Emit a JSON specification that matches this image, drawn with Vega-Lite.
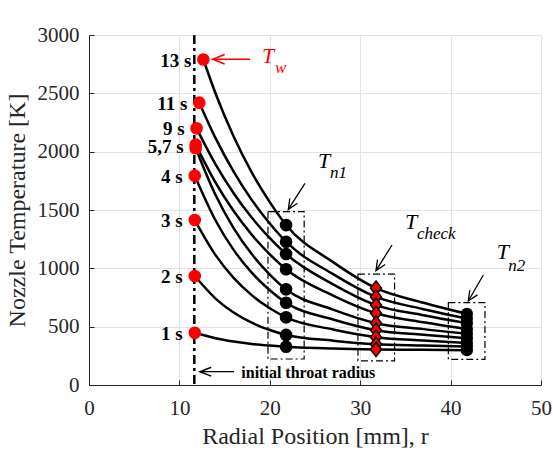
{
  "$schema": "https://vega.github.io/schema/vega-lite/v6.json",
  "width": 452,
  "height": 350,
  "autosize": {"type": "none"},
  "padding": {"left": 89, "top": 35, "right": 12, "bottom": 68},
  "background": "white",
  "config": {"view": {"stroke": null}, "font": "Liberation Serif", "axis": {"labelFont": "Liberation Serif", "titleFont": "Liberation Serif"}},
  "datasets": {
    "curves": [
      {"t": "13 s", "r": 12.65, "T": 2790}, {"t": "13 s", "r": 14, "T": 2499}, {"t": "13 s", "r": 16, "T": 2130}, {"t": "13 s", "r": 18, "T": 1822}, {"t": "13 s", "r": 20, "T": 1567}, {"t": "13 s", "r": 21.8, "T": 1371}, {"t": "13 s", "r": 27, "T": 1053}, {"t": "13 s", "r": 31.75, "T": 830}, {"t": "13 s", "r": 37, "T": 705}, {"t": "13 s", "r": 41.8, "T": 610},
      {"t": "11 s", "r": 12.2, "T": 2420}, {"t": "11 s", "r": 14, "T": 2116}, {"t": "11 s", "r": 16, "T": 1829}, {"t": "11 s", "r": 18, "T": 1587}, {"t": "11 s", "r": 20, "T": 1384}, {"t": "11 s", "r": 21.8, "T": 1228}, {"t": "11 s", "r": 27, "T": 950}, {"t": "11 s", "r": 31.75, "T": 755}, {"t": "11 s", "r": 37, "T": 650}, {"t": "11 s", "r": 41.8, "T": 570},
      {"t": "9 s", "r": 11.9, "T": 2200}, {"t": "9 s", "r": 14, "T": 1891}, {"t": "9 s", "r": 16, "T": 1644}, {"t": "9 s", "r": 18, "T": 1435}, {"t": "9 s", "r": 20, "T": 1258}, {"t": "9 s", "r": 21.8, "T": 1123}, {"t": "9 s", "r": 27, "T": 863}, {"t": "9 s", "r": 31.75, "T": 685}, {"t": "9 s", "r": 37, "T": 598}, {"t": "9 s", "r": 41.8, "T": 530},
      {"t": "7 s", "r": 11.8, "T": 2060}, {"t": "7 s", "r": 14, "T": 1734}, {"t": "7 s", "r": 16, "T": 1491}, {"t": "7 s", "r": 18, "T": 1289}, {"t": "7 s", "r": 20, "T": 1120}, {"t": "7 s", "r": 21.8, "T": 992}, {"t": "7 s", "r": 27, "T": 767}, {"t": "7 s", "r": 31.75, "T": 615}, {"t": "7 s", "r": 37, "T": 538}, {"t": "7 s", "r": 41.8, "T": 480},
      {"t": "5 s", "r": 11.8, "T": 2030}, {"t": "5 s", "r": 14, "T": 1629}, {"t": "5 s", "r": 16, "T": 1345}, {"t": "5 s", "r": 18, "T": 1122}, {"t": "5 s", "r": 20, "T": 947}, {"t": "5 s", "r": 21.8, "T": 820}, {"t": "5 s", "r": 27, "T": 646}, {"t": "5 s", "r": 31.75, "T": 530}, {"t": "5 s", "r": 37, "T": 479}, {"t": "5 s", "r": 41.8, "T": 440},
      {"t": "4 s", "r": 11.7, "T": 1794}, {"t": "4 s", "r": 14, "T": 1410}, {"t": "4 s", "r": 16, "T": 1158}, {"t": "4 s", "r": 18, "T": 963}, {"t": "4 s", "r": 20, "T": 812}, {"t": "4 s", "r": 21.8, "T": 705}, {"t": "4 s", "r": 27, "T": 562}, {"t": "4 s", "r": 31.75, "T": 470}, {"t": "4 s", "r": 37, "T": 430}, {"t": "4 s", "r": 41.8, "T": 400},
      {"t": "3 s", "r": 11.7, "T": 1414}, {"t": "3 s", "r": 14, "T": 1113}, {"t": "3 s", "r": 16, "T": 918}, {"t": "3 s", "r": 18, "T": 770}, {"t": "3 s", "r": 20, "T": 658}, {"t": "3 s", "r": 21.8, "T": 580}, {"t": "3 s", "r": 27, "T": 476}, {"t": "3 s", "r": 31.75, "T": 410}, {"t": "3 s", "r": 37, "T": 381}, {"t": "3 s", "r": 41.8, "T": 360},
      {"t": "2 s", "r": 11.7, "T": 934}, {"t": "2 s", "r": 14, "T": 741}, {"t": "2 s", "r": 16, "T": 621}, {"t": "2 s", "r": 18, "T": 534}, {"t": "2 s", "r": 20, "T": 471}, {"t": "2 s", "r": 21.8, "T": 429}, {"t": "2 s", "r": 27, "T": 380}, {"t": "2 s", "r": 31.75, "T": 350}, {"t": "2 s", "r": 37, "T": 339}, {"t": "2 s", "r": 41.8, "T": 330},
      {"t": "1 s", "r": 11.7, "T": 448}, {"t": "1 s", "r": 14, "T": 401}, {"t": "1 s", "r": 16, "T": 373}, {"t": "1 s", "r": 18, "T": 352}, {"t": "1 s", "r": 20, "T": 338}, {"t": "1 s", "r": 21.8, "T": 328}, {"t": "1 s", "r": 27, "T": 312}, {"t": "1 s", "r": 31.75, "T": 305}, {"t": "1 s", "r": 37, "T": 302}, {"t": "1 s", "r": 41.8, "T": 298}
    ],
    "wall": [
      {"r": 12.65, "T": 2790}, {"r": 12.2, "T": 2420}, {"r": 11.9, "T": 2200}, {"r": 11.8, "T": 2060}, {"r": 11.8, "T": 2030},
      {"r": 11.7, "T": 1794}, {"r": 11.7, "T": 1414}, {"r": 11.7, "T": 934}, {"r": 11.7, "T": 448}
    ],
    "timeLabels": [
      {"label": "13 s", "r": 12.65, "T": 2790}, {"label": "11 s", "r": 12.2, "T": 2420}, {"label": "9 s", "r": 11.9, "T": 2200},
      {"label": "5,7 s", "r": 11.8, "T": 2045}, {"label": "4 s", "r": 11.7, "T": 1794}, {"label": "3 s", "r": 11.7, "T": 1414},
      {"label": "2 s", "r": 11.7, "T": 934}, {"label": "1 s", "r": 11.7, "T": 448}
    ],
    "tn1": [
      {"r": 21.8, "T": 1371}, {"r": 21.8, "T": 1228}, {"r": 21.8, "T": 1123}, {"r": 21.8, "T": 992}, {"r": 21.8, "T": 820},
      {"r": 21.8, "T": 705}, {"r": 21.8, "T": 580}, {"r": 21.8, "T": 429}, {"r": 21.8, "T": 328}
    ],
    "tcheck": [
      {"r": 31.75, "T": 830}, {"r": 31.75, "T": 755}, {"r": 31.75, "T": 685}, {"r": 31.75, "T": 615}, {"r": 31.75, "T": 530},
      {"r": 31.75, "T": 470}, {"r": 31.75, "T": 410}, {"r": 31.75, "T": 350}, {"r": 31.75, "T": 305}
    ],
    "tn2": [
      {"r": 41.8, "T": 610}, {"r": 41.8, "T": 570}, {"r": 41.8, "T": 530}, {"r": 41.8, "T": 480}, {"r": 41.8, "T": 440},
      {"r": 41.8, "T": 400}, {"r": 41.8, "T": 360}, {"r": 41.8, "T": 330}, {"r": 41.8, "T": 298}
    ],
    "boxes": [
      {"r": 19.8, "r2": 23.8, "T": 223, "T2": 1486},
      {"r": 29.75, "r2": 33.8, "T": 207, "T2": 951},
      {"r": 39.75, "r2": 43.8, "T": 220, "T2": 706}
    ],
    "blackArrows": [
      {"r": 23.89, "T": 1729, "r2": 22.05, "T2": 1506},
      {"r": 33.52, "T": 1200, "r2": 31.75, "T2": 981},
      {"r": 43.62, "T": 943, "r2": 41.96, "T2": 720},
      {"r": 16.04, "T": 114, "r2": 12.28, "T2": 114}
    ],
    "diagHeads": [
      {"r": 22.05, "T": 1506}, {"r": 31.75, "T": 981}, {"r": 41.96, "T": 720}
    ],
    "throatHead": [{"r": 12.28, "T": 114}],
    "redArrow": [{"r": 17.81, "T": 2792, "r2": 13.68, "T2": 2792}],
    "redHead": [{"r": 13.68, "T": 2792}],
    "throat": [{"r": 11.65}],
    "bigT": [
      {"name": "n1", "r": 25.33, "T": 1860},
      {"name": "check", "r": 34.96, "T": 1337},
      {"name": "n2", "r": 45.1, "T": 1077}
    ],
    "subs": [
      {"txt": "n1", "r": 26.66, "T": 1774},
      {"txt": "check", "r": 36.28, "T": 1249},
      {"txt": "n2", "r": 46.38, "T": 980}
    ],
    "tw": [{"r": 19.14, "T": 2760}],
    "twSub": [{"txt": "w", "r": 20.58, "T": 2674}],
    "throatText": [{"txt": "initial throat radius", "r": 16.85, "T": 62}]
  },
  "encoding": {
    "x": {
      "field": "r", "type": "quantitative", "title": "Radial Position [mm], r",
      "scale": {"domain": [0, 50], "nice": false, "zero": false},
      "axis": {
        "values": [0, 10, 20, 30, 40, 50], "format": "d", "grid": true, "gridColor": "#e2e2e2", "gridWidth": 1,
        "domainColor": "#262626", "domainWidth": 1, "tickColor": "#262626", "tickSize": -5,
        "labelFont": "Liberation Serif", "labelFontSize": 21, "labelColor": "#262626", "labelPadding": 17,
        "labelFlush": false, "labelOverlap": false,
        "titleFont": "Liberation Serif", "titleFontSize": 24, "titleFontWeight": "normal", "titleColor": "#262626", "titlePadding": 6
      }
    },
    "y": {
      "field": "T", "type": "quantitative", "title": "Nozzle Temperature [K]",
      "scale": {"domain": [0, 3000], "nice": false, "zero": false},
      "axis": {
        "values": [0, 500, 1000, 1500, 2000, 2500, 3000], "format": "d", "grid": true, "gridColor": "#e2e2e2", "gridWidth": 1,
        "domainColor": "#262626", "domainWidth": 1, "tickColor": "#262626", "tickSize": -5,
        "labelFont": "Liberation Serif", "labelFontSize": 21, "labelColor": "#262626", "labelPadding": 15,
        "labelFlush": false, "labelOverlap": false,
        "titleFont": "Liberation Serif", "titleFontSize": 24, "titleFontWeight": "normal", "titleColor": "#262626", "titlePadding": 8
      }
    }
  },
  "layer": [
    {
      "data": {"name": "boxes"},
      "mark": {"type": "rect", "fill": null, "fillOpacity": 0, "stroke": "black", "strokeWidth": 1.2, "strokeDash": [7, 3, 2, 3]},
      "encoding": {"x2": {"field": "r2"}, "y2": {"field": "T2"}}
    },
    {
      "data": {"name": "throat"},
      "mark": {"type": "rule", "color": "black", "strokeWidth": 2.5, "strokeDash": [9, 4, 3, 4]},
      "encoding": {"y": {"value": 0}, "y2": {"value": 350}}
    },
    {
      "data": {"name": "curves"},
      "mark": {"type": "line", "color": "black", "strokeWidth": 2.5, "interpolate": "monotone"},
      "encoding": {"detail": {"field": "t"}}
    },
    {
      "data": {"name": "tn1"},
      "mark": {"type": "point", "shape": "circle", "filled": true, "color": "black", "size": 160, "opacity": 1}
    },
    {
      "data": {"name": "tn2"},
      "mark": {"type": "point", "shape": "circle", "filled": true, "color": "black", "size": 150, "opacity": 1}
    },
    {
      "data": {"name": "tcheck"},
      "mark": {"type": "point", "shape": "M0,-1.3L1,0L0,1.3L-1,0Z", "filled": true, "fill": "#ff0000", "stroke": "black", "strokeWidth": 1.5, "size": 120, "opacity": 1}
    },
    {
      "data": {"name": "wall"},
      "mark": {"type": "point", "shape": "circle", "filled": true, "color": "#ff0000", "size": 160, "opacity": 1}
    },
    {
      "data": {"name": "timeLabels"},
      "mark": {"type": "text", "font": "Liberation Serif", "fontWeight": "bold", "fontSize": 19, "align": "right", "baseline": "middle", "dx": -12, "dy": 1, "color": "black"},
      "encoding": {"text": {"field": "label"}}
    },
    {
      "data": {"name": "blackArrows"},
      "mark": {"type": "rule", "color": "black", "strokeWidth": 1.3},
      "encoding": {"x2": {"field": "r2"}, "y2": {"field": "T2"}}
    },
    {
      "data": {"name": "diagHeads"},
      "mark": {"type": "point", "shape": "M-1,-0.45L0,0L-1,0.45", "filled": false, "stroke": "black", "strokeWidth": 1.3, "size": 400, "angle": 122, "opacity": 1}
    },
    {
      "data": {"name": "throatHead"},
      "mark": {"type": "point", "shape": "M-1,-0.4L0,0L-1,0.4", "filled": false, "stroke": "black", "strokeWidth": 1.5, "size": 500, "angle": 180, "opacity": 1}
    },
    {
      "data": {"name": "redArrow"},
      "mark": {"type": "rule", "color": "#ff0000", "strokeWidth": 1.3},
      "encoding": {"x2": {"field": "r2"}, "y2": {"field": "T2"}}
    },
    {
      "data": {"name": "redHead"},
      "mark": {"type": "point", "shape": "M-1,-0.4L0,0L-1,0.4", "filled": false, "stroke": "#ff0000", "strokeWidth": 1.5, "size": 576, "angle": 180, "opacity": 1}
    },
    {
      "data": {"name": "bigT"},
      "mark": {"type": "text", "text": "T", "font": "Liberation Serif", "fontStyle": "italic", "fontSize": 22, "align": "left", "baseline": "alphabetic", "color": "black"}
    },
    {
      "data": {"name": "subs"},
      "mark": {"type": "text", "font": "Liberation Serif", "fontStyle": "italic", "fontSize": 17, "align": "left", "baseline": "alphabetic", "color": "black"},
      "encoding": {"text": {"field": "txt"}}
    },
    {
      "data": {"name": "tw"},
      "mark": {"type": "text", "text": "T", "font": "Liberation Serif", "fontStyle": "italic", "fontSize": 22, "align": "left", "baseline": "alphabetic", "color": "#ff0000"}
    },
    {
      "data": {"name": "twSub"},
      "mark": {"type": "text", "font": "Liberation Serif", "fontStyle": "italic", "fontSize": 17, "align": "left", "baseline": "alphabetic", "color": "#ff0000"},
      "encoding": {"text": {"field": "txt"}}
    },
    {
      "data": {"name": "throatText"},
      "mark": {"type": "text", "font": "Liberation Serif", "fontWeight": "bold", "fontSize": 16, "align": "left", "baseline": "alphabetic", "color": "black"},
      "encoding": {"text": {"field": "txt"}}
    }
  ]
}
